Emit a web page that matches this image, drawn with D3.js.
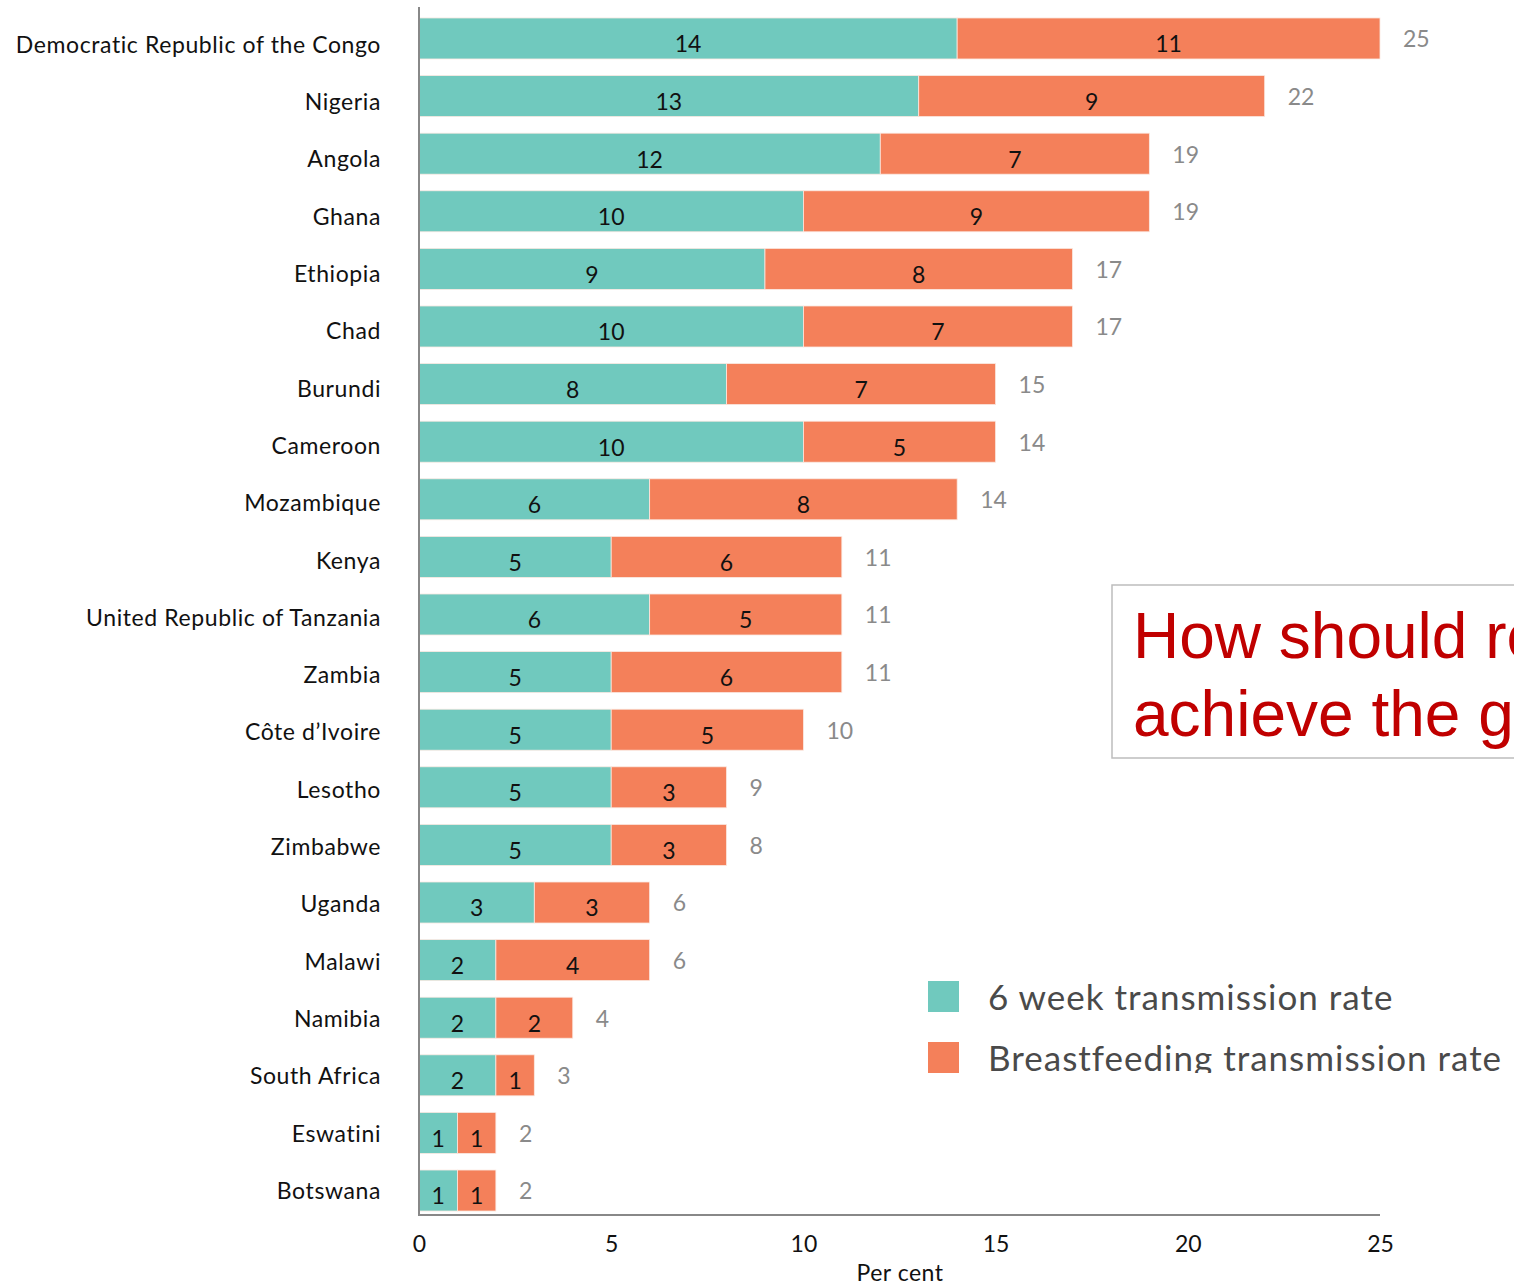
<!DOCTYPE html>
<html>
<head>
<meta charset="utf-8">
<script src="https://cdn.jsdelivr.net/npm/d3@7"></script>
<style>
  html, body { margin: 0; padding: 0; background: #fff; overflow: hidden; }
  svg { display: block; }
</style>
</head>
<body>
<svg id="chart" width="1514" height="1286"></svg>
<script>
// Mother-to-child HIV transmission rates by country (per cent)
const countries = [
  "Democratic Republic of the Congo", "Nigeria", "Angola", "Ghana", "Ethiopia",
  "Chad", "Burundi", "Cameroon", "Mozambique", "Kenya",
  "United Republic of Tanzania", "Zambia", "Côte d\u2019Ivoire", "Lesotho", "Zimbabwe",
  "Uganda", "Malawi", "Namibia", "South Africa", "Eswatini", "Botswana"
];
const sixWeekRate      = [14, 13, 12, 10, 9, 10, 8, 10, 6, 5, 6, 5, 5, 5, 5, 3, 2, 2, 2, 1, 1];
const breastfeedRate   = [11, 9, 7, 9, 8, 7, 7, 5, 8, 6, 5, 6, 5, 3, 3, 3, 4, 2, 1, 1, 1];
const totalRate        = [25, 22, 19, 19, 17, 17, 15, 14, 14, 11, 11, 11, 10, 9, 8, 6, 6, 4, 3, 2, 2];
const xTicks = [0, 5, 10, 15, 20, 25];
const seriesNames = ["6 week transmission rate", "Breastfeeding transmission rate"];
const seriesColors = ["#70c9be", "#f4805a"];

const rows = countries.map((c, i) => ({
  country: c, sixWeek: sixWeekRate[i], breastfeeding: breastfeedRate[i], total: totalRate[i]
}));

const svg = d3.select("#chart");
const fontFamily = "Lato, 'Noto Sans', sans-serif";

const x = d3.scaleLinear().domain([0, 25]).range([419, 1380]);
const y = d3.scaleBand().domain(countries).range([7.6, 1221.4])
  .paddingInner(0.288).paddingOuter(0.18);
// Category labels run on a slightly tighter pitch than the bars
const yLabel = d3.scalePoint().domain(countries).range([47, 1193]);

const stack = d3.stack().keys(["sixWeek", "breastfeeding"]);
const layers = stack(rows);

// Bars
const gBars = svg.append("g");
layers.forEach((layer, li) => {
  gBars.selectAll(null).data(layer).enter().append("rect")
    .attr("x", d => x(d[0]))
    .attr("y", d => y(d.data.country))
    .attr("width", d => x(d[1]) - x(d[0]))
    .attr("height", y.bandwidth())
    .attr("fill", seriesColors[li])
    .attr("stroke", "#fbe9e2")
    .attr("stroke-width", 0.8);
  // Segment value labels
  gBars.selectAll(null).data(layer).enter().append("text")
    .attr("x", d => (x(d[0]) + x(d[1])) / 2)
    .attr("y", d => y(d.data.country) + y.bandwidth() / 2 + 8)
    .attr("text-anchor", "middle")
    .attr("dominant-baseline", "middle")
    .attr("font-family", fontFamily)
    .attr("font-size", 23)
    .attr("fill", "#111")
    .text(d => d[1] - d[0]);
});

// Totals to the right of each bar
svg.append("g").selectAll("text").data(layers[1]).enter().append("text")
  .attr("x", d => x(d[1]) + 23)
  .attr("y", d => y(d.data.country) + y.bandwidth() / 2 + 3)
  .attr("dominant-baseline", "middle")
  .attr("font-family", fontFamily)
  .attr("font-size", 23)
  .attr("fill", "#8a8a8a")
  .text(d => d.data.total);

// Country labels
svg.append("g").selectAll("text").data(countries).enter().append("text")
  .attr("x", 381)
  .attr("y", d => yLabel(d))
  .attr("text-anchor", "end")
  .attr("dominant-baseline", "middle")
  .attr("font-family", fontFamily)
  .attr("font-size", 23)
  .attr("letter-spacing", 0.6)
  .attr("fill", "#111")
  .text(d => d);

// Axis lines
svg.append("line").attr("x1", 419).attr("x2", 419).attr("y1", 7).attr("y2", 1216)
  .attr("stroke", "#888").attr("stroke-width", 2);
svg.append("line").attr("x1", 418).attr("x2", x(25)).attr("y1", 1215).attr("y2", 1215)
  .attr("stroke", "#888").attr("stroke-width", 2);

// X tick labels
const xAxis = d3.axisBottom(x).tickValues(xTicks).tickSize(0).tickPadding(0);
const gx = svg.append("g").attr("transform", "translate(0,1246)").call(xAxis);
gx.select(".domain").remove();
gx.selectAll("text")
  .attr("y", 0).attr("dy", null)
  .attr("dominant-baseline", "middle")
  .attr("font-family", fontFamily)
  .attr("font-size", 23)
  .attr("fill", "#111");

svg.append("text")
  .attr("x", 900).attr("y", 1275)
  .attr("text-anchor", "middle")
  .attr("dominant-baseline", "middle")
  .attr("font-family", fontFamily)
  .attr("font-size", 23)
  .attr("letter-spacing", 0.5)
  .attr("fill", "#111")
  .text("Per cent");

// Legend (cut off at its lower edge)
svg.append("defs").append("clipPath").attr("id", "legendClip")
  .append("rect").attr("x", 900).attr("y", 960).attr("width", 614).attr("height", 113);
const legend = svg.append("g").attr("clip-path", "url(#legendClip)");
seriesNames.forEach((name, i) => {
  const ly = 981 + i * 61;
  legend.append("rect").attr("x", 928).attr("y", ly).attr("width", 31).attr("height", 31)
    .attr("fill", seriesColors[i]);
  legend.append("text")
    .attr("x", 988).attr("y", ly + 20)
    .attr("dominant-baseline", "middle")
    .attr("font-family", fontFamily)
    .attr("font-size", 35)
    .attr("letter-spacing", 1.0)
    .attr("fill", "#4a4a4a")
    .text(name);
});

// Question call-out box
svg.append("rect").attr("x", 1112).attr("y", 585).attr("width", 420).attr("height", 173)
  .attr("fill", "#fff").attr("stroke", "#bdbdbd").attr("stroke-width", 1.5);
const callout = ["How should resources be used to", "achieve the goal?"];
svg.append("g").selectAll("text").data(callout).enter().append("text")
  .attr("x", 1133)
  .attr("y", (d, i) => 658 + i * 78)
  .attr("font-family", "'Liberation Sans', Arial, sans-serif")
  .attr("font-size", 64)
  .attr("fill", "#c00000")
  .text(d => d);
</script>
</body>
</html>
